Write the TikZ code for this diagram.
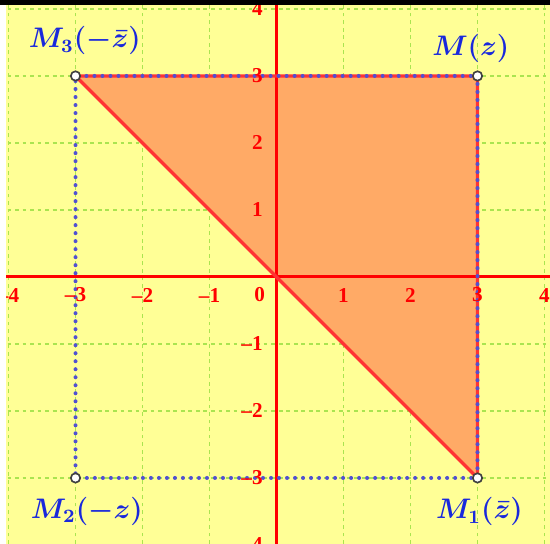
\documentclass[tikz,border=0pt]{standalone}
\usepackage{fontspec}
\usepackage{tikz}

\newfontfamily\tickfont{Liberation Serif}

\definecolor{bgyellow}{RGB}{255,255,150}
\definecolor{gridgreen}{RGB}{170,228,80}
\definecolor{axisred}{RGB}{255,0,0}
\definecolor{fillorange}{RGB}{255,170,102}
\definecolor{edgered}{RGB}{255,51,51}
\definecolor{dotblue}{RGB}{80,80,210}
\definecolor{labelblue}{RGB}{25,40,220}

\begin{document}
\begin{tikzpicture}[
    axis/.style={axisred, line width=1.3pt}, % Style for the axes
    gridline/.style={gridgreen, line width=0.7pt, dash pattern=on 1.6pt off 1.6pt}, % Background grid
    edge/.style={edgered, line width=1.4pt}, % Red sides of the triangle
    dotline/.style={dotblue, line width=1.7pt, dash pattern=on 0pt off 3.4pt, line cap=round}, % Blue dotted sides
    pt/.style={circle, draw=black!75, fill=white, line width=0.7pt, minimum size=0.14cm, inner sep=0pt}, % Points
    ticklabel/.style={axisred, font=\tickfont\fontsize{9}{10}\selectfont\bfseries, inner sep=0pt}, % Axis numbers
    ptlabel/.style={labelblue, font=\fontsize{11.5}{13}\selectfont\boldmath, anchor=base, inner sep=0pt} % Point names
]

    % Frame and background
    \useasboundingbox (-4.127,-3.985) rectangle (4.082,4.134);
    \fill[bgyellow] (-4.127,-3.985) rectangle (4.082,4.134);

    % Grid
    \draw[gridline] (-4.127,-3.985) grid (4.082,4.134);

    % Key points (the four images of z)
    \coordinate (M) at (3, 3);     % z
    \coordinate (M1) at (3, -3);   % conjugate of z
    \coordinate (M2) at (-3, -3);  % -z
    \coordinate (M3) at (-3, 3);   % -conjugate of z

    % Shaded triangle
    \fill[fillorange] (M3) -- (M) -- (M1) -- cycle;

    % Axes
    \draw[axis] (-4.127, 0) -- (4.082, 0);
    \draw[axis] (0, -3.985) -- (0, 4.134);

    % Sides of the triangle
    \draw[edge] (M3) -- (M) -- (M1) -- cycle;

    % Dotted square through the four points
    \draw[dotline] (M) -- (M1) -- (M2) -- (M3) -- cycle;

    % --- Numbers on the x-axis ---
    \node[ticklabel] (x0) at (-0.25, -0.27) {0};
    \node[ticklabel] (x1) at (1, -0.27) {1};
    \node[ticklabel] (x2) at (2, -0.27) {2};
    \node[ticklabel] (x3) at (3, -0.27) {3};
    \node[ticklabel] (x4) at (4, -0.27) {4};
    \node[ticklabel] (xm1) at (-1, -0.27) {–1};
    \node[ticklabel] (xm2) at (-2, -0.27) {–2};
    \node[ticklabel] (xm3) at (-3, -0.27) {–3};
    \node[ticklabel] (xm4) at (-4, -0.27) {–4};

    % --- Numbers on the y-axis ---
    \node[ticklabel, anchor=east] (y1) at (-0.2, 1) {1};
    \node[ticklabel, anchor=east] (y2) at (-0.2, 2) {2};
    \node[ticklabel, anchor=east] (y3) at (-0.2, 3) {3};
    \node[ticklabel, anchor=east] (y4) at (-0.2, 4) {4};
    \node[ticklabel, anchor=east] (ym1) at (-0.2, -1) {–1};
    \node[ticklabel, anchor=east] (ym2) at (-0.2, -2) {–2};
    \node[ticklabel, anchor=east] (ym3) at (-0.2, -3) {–3};
    \node[ticklabel, anchor=east] (ym4) at (-0.2, -4) {–4};

    % Points
    \node[pt] (pM) at (M) {};
    \node[pt] (pM1) at (M1) {};
    \node[pt] (pM2) at (M2) {};
    \node[pt] (pM3) at (M3) {};

    % Names of the points
    \node[ptlabel] (lM) at ([shift={(-0.10,0.31)}]M) {$M(z)$};
    \node[ptlabel] (lM1) at ([shift={(0.03,-0.61)}]M1) {$M_1(\bar{z})$};
    \node[ptlabel] (lM2) at ([shift={(0.17,-0.60)}]M2) {$M_2(-z)$};
    \node[ptlabel] (lM3) at ([shift={(0.14,0.42)}]M3) {$M_3(-\bar{z})$};

    % Edges of the window
    \fill[white] (-4.127,-3.985) rectangle (-4.037,4.134);
    \fill[black] (-4.127,4.06) rectangle (4.082,4.134);

\end{tikzpicture}
\end{document}
